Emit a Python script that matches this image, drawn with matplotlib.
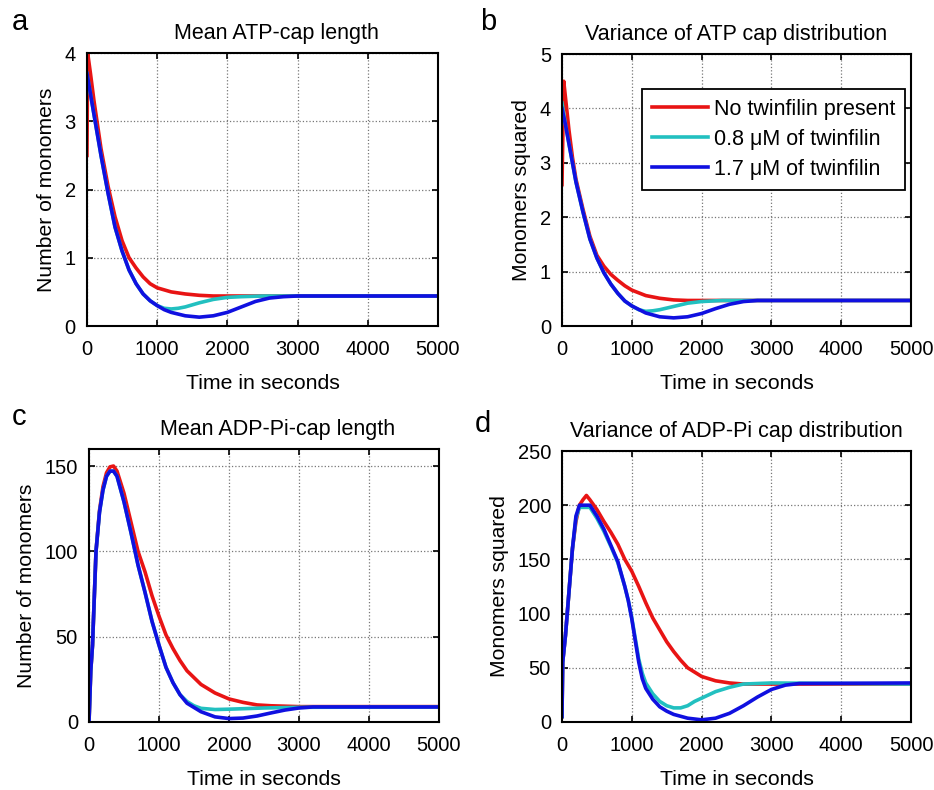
import numpy as np
import matplotlib
matplotlib.use('Agg')
import matplotlib.pyplot as plt

plt.rcParams['font.family'] = ['Liberation Sans', 'DejaVu Sans']

# series labels / colours
labels = ['No twinfilin present', '0.8 \u03bcM of twinfilin', '1.7 \u03bcM of twinfilin']
colors = ['#e81414', '#22c0c0', '#1010e0']

# ---- panel a: mean ATP-cap length ----
a_red_t = [0, 10, 50, 100, 150, 200, 300, 400, 500, 600, 700, 800, 900, 1000, 1200, 1400, 1600, 1800, 2000, 2500, 3000, 4000, 5000]
a_red_y = [2.5, 4.0, 3.7, 3.3, 2.95, 2.6, 2.05, 1.6, 1.25, 1.0, 0.85, 0.72, 0.62, 0.56, 0.5, 0.47, 0.45, 0.44, 0.44, 0.44, 0.44, 0.44, 0.44]
a_cyan_t = [0, 50, 100, 150, 200, 300, 400, 500, 600, 700, 800, 900, 1000, 1100, 1200, 1300, 1400, 1600, 1800, 2000, 2200, 2500, 5000]
a_cyan_y = [3.7, 3.4, 3.1, 2.8, 2.5, 1.95, 1.45, 1.1, 0.82, 0.62, 0.47, 0.37, 0.3, 0.26, 0.25, 0.26, 0.28, 0.34, 0.39, 0.42, 0.43, 0.44, 0.44]
a_blue_t = [0, 50, 100, 150, 200, 300, 400, 500, 600, 700, 800, 900, 1000, 1100, 1200, 1400, 1600, 1800, 2000, 2200, 2400, 2600, 2800, 3000, 5000]
a_blue_y = [3.7, 3.4, 3.1, 2.8, 2.5, 1.95, 1.45, 1.1, 0.82, 0.62, 0.47, 0.37, 0.3, 0.24, 0.2, 0.15, 0.13, 0.15, 0.2, 0.28, 0.36, 0.41, 0.43, 0.44, 0.44]

# ---- panel b: variance of ATP cap distribution ----
b_red_t = [0, 25, 50, 100, 150, 200, 300, 400, 500, 600, 700, 800, 900, 1000, 1200, 1400, 1600, 1800, 5000]
b_red_y = [2.6, 4.5, 4.2, 3.6, 3.1, 2.7, 2.15, 1.65, 1.3, 1.1, 0.95, 0.84, 0.74, 0.66, 0.56, 0.51, 0.48, 0.47, 0.47]
b_cyan_t = [0, 50, 100, 150, 200, 300, 400, 500, 600, 700, 800, 900, 1000, 1100, 1200, 1300, 1400, 1600, 1800, 2000, 2300, 5000]
b_cyan_y = [4.1, 3.7, 3.35, 3.0, 2.65, 2.1, 1.6, 1.25, 0.98, 0.77, 0.6, 0.46, 0.37, 0.3, 0.27, 0.28, 0.3, 0.36, 0.42, 0.45, 0.47, 0.47]
b_blue_t = [0, 50, 100, 150, 200, 300, 400, 500, 600, 700, 800, 900, 1000, 1200, 1400, 1600, 1800, 2000, 2200, 2400, 2600, 2800, 5000]
b_blue_y = [4.0, 3.7, 3.35, 3.0, 2.65, 2.1, 1.6, 1.25, 0.98, 0.77, 0.6, 0.46, 0.37, 0.24, 0.17, 0.15, 0.17, 0.23, 0.32, 0.4, 0.45, 0.47, 0.47]

# ---- panel c: mean ADP-Pi-cap length ----
c_red_t = [0, 25, 50, 100, 150, 200, 250, 300, 350, 400, 500, 600, 700, 800, 900, 1000, 1100, 1200, 1300, 1400, 1600, 1800, 2000, 2200, 2400, 2600, 3000, 5000]
c_red_y = [0, 30, 45, 100, 124, 138, 146, 149.5, 150, 147, 134, 117, 100, 88, 74, 62, 51, 43, 36, 30, 22, 17, 13.5, 11.5, 10, 9.5, 9, 9]
c_cyan_t = [0, 25, 50, 100, 150, 200, 250, 300, 350, 400, 500, 600, 700, 800, 900, 1000, 1100, 1200, 1300, 1400, 1500, 1600, 1800, 2000, 2500, 3000, 5000]
c_cyan_y = [0, 30, 45, 100, 123, 136, 144, 147, 147, 144, 129, 111, 92, 76, 59, 45, 32, 23, 16, 12, 9.5, 8, 7.3, 7.5, 8.2, 8.6, 8.8]
c_blue_t = [0, 25, 50, 100, 150, 200, 250, 300, 350, 400, 500, 600, 700, 800, 900, 1000, 1100, 1200, 1300, 1400, 1600, 1800, 2000, 2200, 2400, 2600, 2800, 3000, 3200, 5000]
c_blue_y = [0, 30, 45, 100, 123, 136, 144, 147, 147, 144, 129, 111, 92, 76, 59, 45, 32, 23, 16, 11, 6, 3, 2, 2.3, 3.5, 5.3, 7, 8.2, 8.8, 8.8]

# ---- panel d: variance of ADP-Pi cap distribution ----
d_red_t = [0, 10, 50, 100, 150, 200, 250, 300, 350, 400, 500, 600, 700, 800, 900, 1000, 1100, 1200, 1300, 1400, 1500, 1600, 1700, 1800, 1900, 2000, 2200, 2400, 2600, 5000]
d_red_y = [5, 55, 80, 120, 160, 185, 200, 205, 209, 205, 196, 185, 175, 164, 150, 139, 125, 110, 96, 85, 74, 65, 57, 50, 46, 42, 38, 36, 35, 35]
d_cyan_t = [0, 10, 50, 100, 150, 200, 250, 300, 400, 500, 600, 700, 800, 900, 950, 1000, 1050, 1100, 1150, 1200, 1300, 1400, 1500, 1600, 1700, 1800, 1900, 2000, 2200, 2400, 2600, 3000, 5000]
d_cyan_y = [5, 55, 80, 120, 160, 188, 198, 198, 198, 188, 176, 162, 147, 125, 112, 96, 77, 58, 45, 36, 26, 19, 15, 13, 13, 15, 19, 22, 28, 32, 35, 36, 35]
d_blue_t = [0, 10, 50, 100, 150, 200, 250, 300, 400, 500, 600, 700, 800, 900, 950, 1000, 1050, 1100, 1150, 1200, 1300, 1400, 1500, 1600, 1800, 2000, 2200, 2400, 2600, 2800, 3000, 3200, 3400, 5000]
d_blue_y = [5, 55, 80, 120, 160, 190, 200, 200, 200, 190, 178, 163, 148, 125, 112, 95, 75, 55, 40, 31, 21, 14, 10, 7, 3.5, 2, 3.5, 8, 15, 23, 30, 34, 35.5, 36]

panels = [
    ('a', 'Mean ATP-cap length', 'Number of monomers', [0, 4], [0, 1, 2, 3, 4],
     [(a_red_t, a_red_y), (a_cyan_t, a_cyan_y), (a_blue_t, a_blue_y)],
     [0.0931, 0.5873, 0.3758, 0.3456], 0.54, (-0.213, 1.084)),
    ('b', 'Variance of ATP cap distribution', 'Monomers squared', [0, 5], [0, 1, 2, 3, 4, 5],
     [(b_red_t, b_red_y), (b_cyan_t, b_cyan_y), (b_blue_t, b_blue_y)],
     [0.6017, 0.5873, 0.3737, 0.3443], 0.5, (-0.235, 1.088)),
    ('c', 'Mean ADP-Pi-cap length', 'Number of monomers', [0, 160], [0, 50, 100, 150],
     [(c_red_t, c_red_y), (c_cyan_t, c_cyan_y), (c_blue_t, c_blue_y)],
     [0.0953, 0.0861, 0.3747, 0.3456], 0.54, (-0.222, 1.088)),
    ('d', 'Variance of ADP-Pi cap distribution', 'Monomers squared', [0, 250], [0, 50, 100, 150, 200, 250],
     [(d_red_t, d_red_y), (d_cyan_t, d_cyan_y), (d_blue_t, d_blue_y)],
     [0.6017, 0.0861, 0.3737, 0.343], 0.5, (-0.25, 1.07)),
]

fig = plt.figure(figsize=(9.34, 7.90), dpi=100)

for letter, title, ylabel, ylim, yticks, series, rect, tx, lpos in panels:
    ax = fig.add_axes(rect)
    for (t, y), c, lab in zip(series, colors, labels):
        ax.plot(t, y, color=c, lw=2.6, label=lab, solid_joinstyle='round')
    ax.set_xlim(0, 5000)
    ax.set_ylim(*ylim)
    ax.set_xticks([0, 1000, 2000, 3000, 4000, 5000])
    ax.set_yticks(yticks)
    ax.grid(True, linestyle=':', color='#777777', linewidth=0.9)
    ax.tick_params(direction='in', top=True, right=True, length=4, width=1.2,
                   labelsize=14.5, pad=10)
    ax.tick_params(axis='y', pad=8)
    for s in ax.spines.values():
        s.set_linewidth(1.5)
    ax.set_title(title, fontsize=15.5, x=tx, pad=10)
    ax.set_xlabel('Time in seconds', fontsize=15.3, labelpad=11)
    ax.set_ylabel(ylabel, fontsize=15.2, labelpad=6)
    ax.text(lpos[0], lpos[1], letter, transform=ax.transAxes, fontsize=21,
            va='baseline', ha='left')
    if letter == 'b':
        leg = ax.legend(loc='upper right', bbox_to_anchor=(0.983, 0.871), fontsize=15.5,
                        fancybox=False, edgecolor='black', framealpha=1,
                        handlelength=2.6, borderpad=0.45, labelspacing=0.42, handletextpad=0.3,
                        borderaxespad=0)
        leg.get_frame().set_linewidth(1.3)

fig.savefig('out.png', dpi=100)
